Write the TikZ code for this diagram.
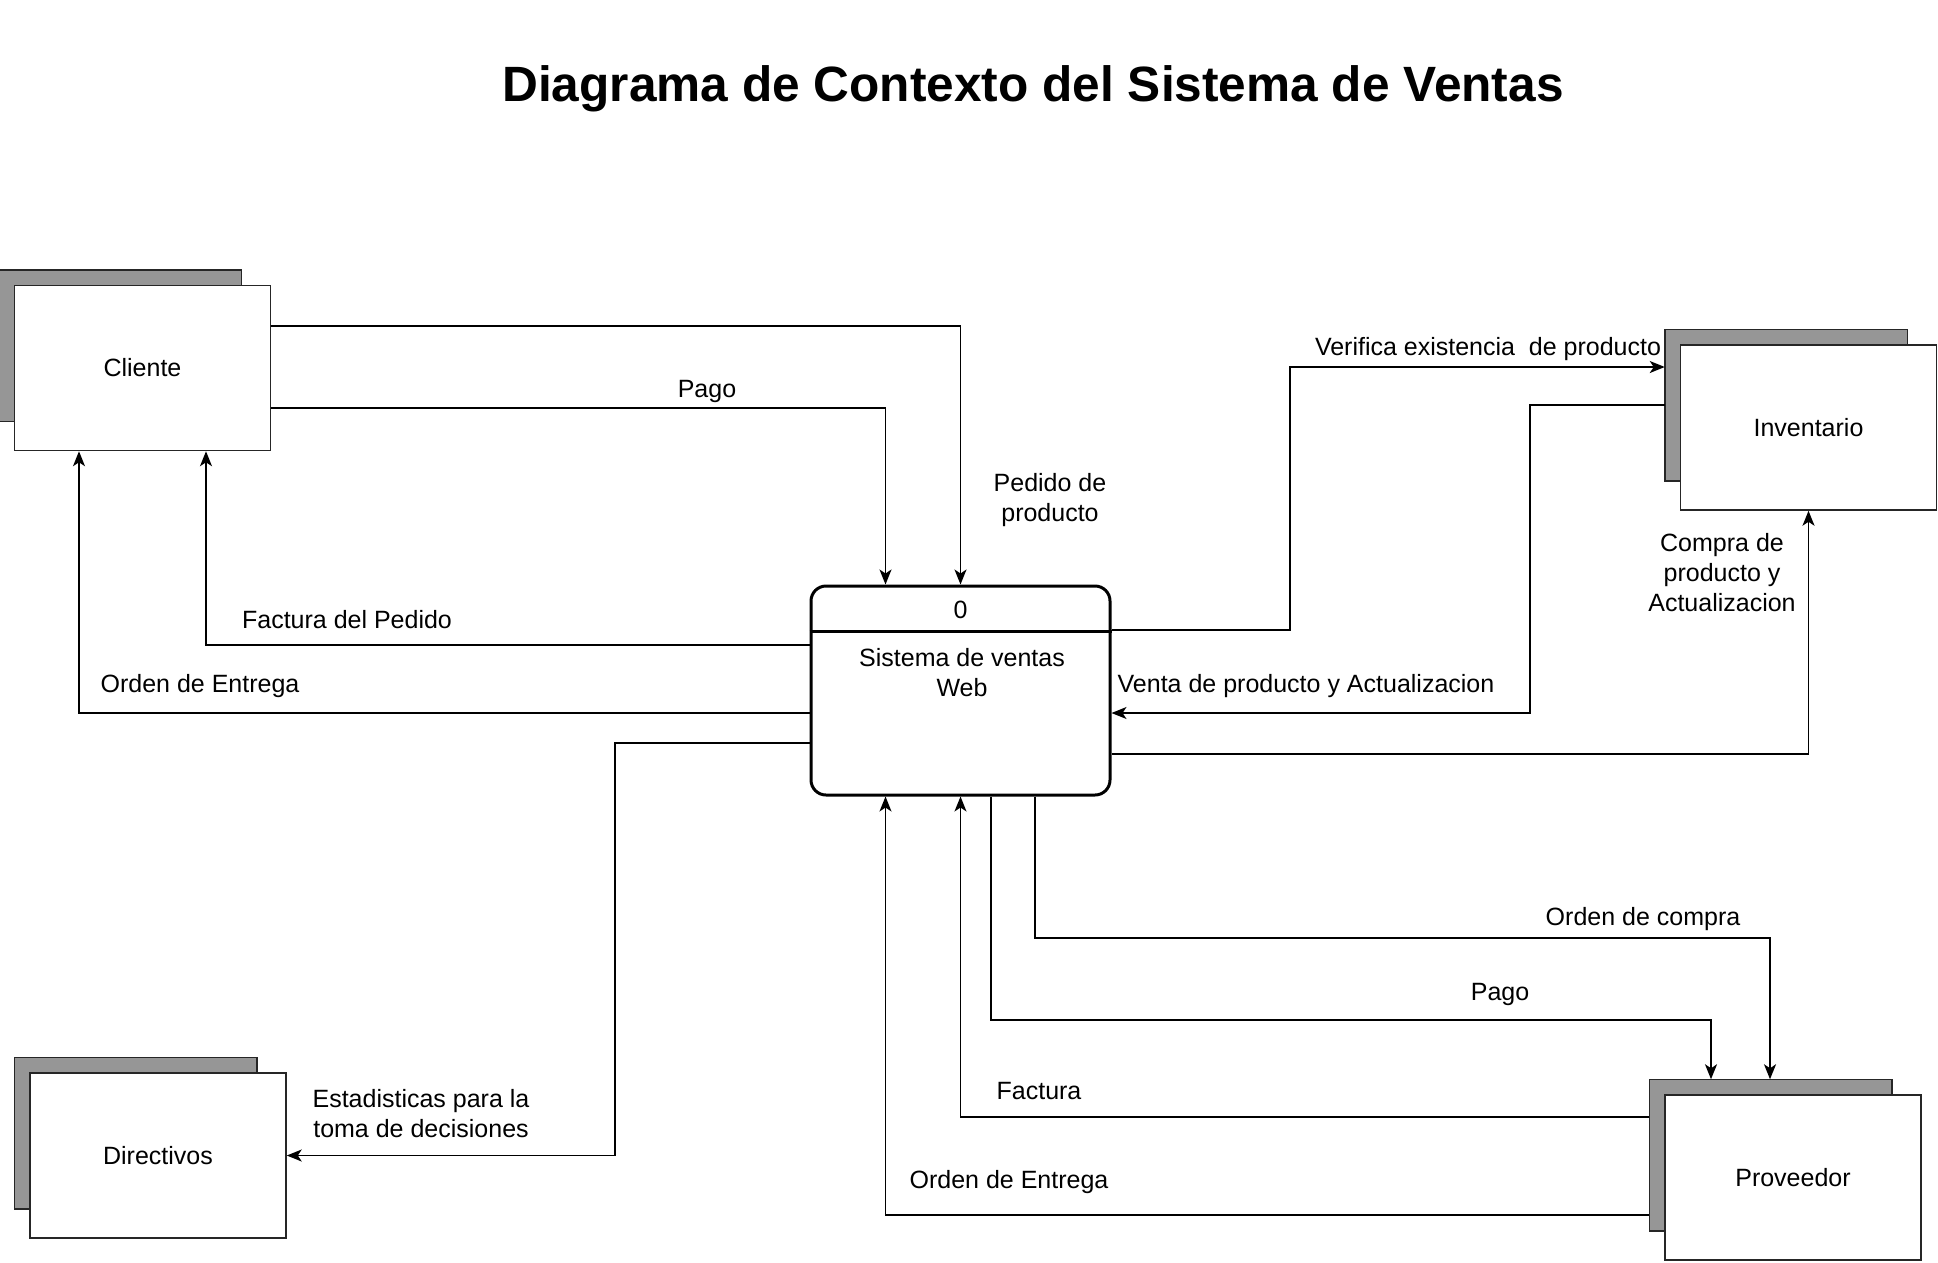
\documentclass[tikz,border=0pt]{standalone}
\usepackage{fontspec}
\setmainfont{Liberation Sans}
\usetikzlibrary{backgrounds,arrows.meta,calc}
\definecolor{shadowgray}{RGB}{150,150,150}
\begin{document}
\begin{tikzpicture}[x=1pt,y=-1pt,
  entity/.style={draw=black!85,line width=1.5pt,fill=white,minimum width=256pt,minimum height=165pt,
    font=\fontsize{25}{30}\selectfont},
  backbox/.style={draw=black!85,line width=1.5pt,fill=shadowgray},
  flow/.style={draw=black,line width=1.5pt,-{Stealth[length=15pt,width=12pt,inset=4pt]}},
  lbl/.style={font=\fontsize{25}{30}\selectfont,align=center,inner sep=0pt}]
\useasboundingbox (0,0) rectangle (1938,1262);

\node[font=\bfseries\fontsize{49.6}{58}\selectfont] (title) at (1033,89) {Diagrama de Contexto del Sistema de Ventas};

\node[entity] (cli) at (142.5,368) {Cliente};
\node[entity] (inv) at (1808.5,427.5) {Inventario};
\node[entity] (prov) at (1793,1177.5) {Proveedor};
\node[entity] (dir) at (158,1155.5) {Directivos};
\begin{scope}[on background layer]
\fill[white] (0,0) rectangle (1938,1262);
\foreach \e in {cli,inv,prov,dir}
  \draw[backbox] ($(\e.north west)+(-15,-15)$) rectangle ($(\e.south east)+(-30,-30)$);
\end{scope}

\node[draw,line width=3pt,rounded corners=15pt,minimum width=299pt,minimum height=209pt,fill=white] (proc) at (960.5,690.5) {};
\draw[line width=3pt] (proc.west |- 0,631) -- (proc.east |- 0,631);
\node[lbl] (pid) at (960.5,610) {0};
\node[lbl] (pname) at (962,673) {Sistema de ventas\\Web};

\coordinate (invL) at ($(inv.west)+(-15,0)$);
\coordinate (provL) at ($(prov.west)+(-15,0)$);
\coordinate (provT) at ($(prov.north)+(0,-15)$);

% Cliente -> proceso
\draw[flow] (cli.east |- 0,326) -| (proc.north);
\draw[flow] (cli.east |- 0,408) -| ($(proc.north)+(-75,0)$);
% proceso -> Cliente
\draw[flow] (proc.west |- 0,645) -| (cli.south -| 206,0);
\draw[flow] (proc.west |- 0,713) -| (cli.south -| 79,0);
% proceso -> Directivos
\draw[flow] (proc.west |- 0,743) -| (615,1155.5) -- (dir.east);
% proceso <-> Inventario
\draw[flow] (proc.east |- 0,630) -| (1290,367) -- (invL |- 0,367);
\draw[flow] (invL |- 0,405) -| (1530,713) -- (proc.east |- 0,713);
\draw[flow] (proc.east |- 0,754) -| (inv.south);
% proceso <-> Proveedor
\draw[flow] ($(proc.south)+(74.5,0)$) |- (1770,938) -- (provT -| 1770,0);
\draw[flow] ($(proc.south)+(30.5,0)$) |- (1711,1020) -- (provT -| 1711,0);
\draw[flow] (provL |- 0,1117) -| (proc.south);
\draw[flow] (provL |- 0,1215) -| ($(proc.south)+(-75,0)$);

% labels
\node[lbl] (l1) at (1050,500) {Pedido de\\ producto};
\node[lbl] (l2) at (707,391) {Pago};
\node[lbl] (l3) at (347,620) {Factura del Pedido};
\node[lbl] (l4) at (200,686) {Orden de Entrega};
\node[lbl] (l5) at (421,1114) {Estadisticas para la\\toma de decisiones};
\node[lbl] (l6) at (1488,349) {Verifica existencia\ \ de producto};
\node[lbl] (l7) at (1306,686) {Venta de producto y Actualizacion};
\node[lbl] (l8) at (1722,573) {Compra de\\producto y\\Actualizacion};
\node[lbl] (l9) at (1643,919) {Orden de compra};
\node[lbl] (l10) at (1500,994) {Pago};
\node[lbl] (l11) at (1039,1091) {Factura};
\node[lbl] (l12) at (1009,1182) {Orden de Entrega};
\end{tikzpicture}
\end{document}
